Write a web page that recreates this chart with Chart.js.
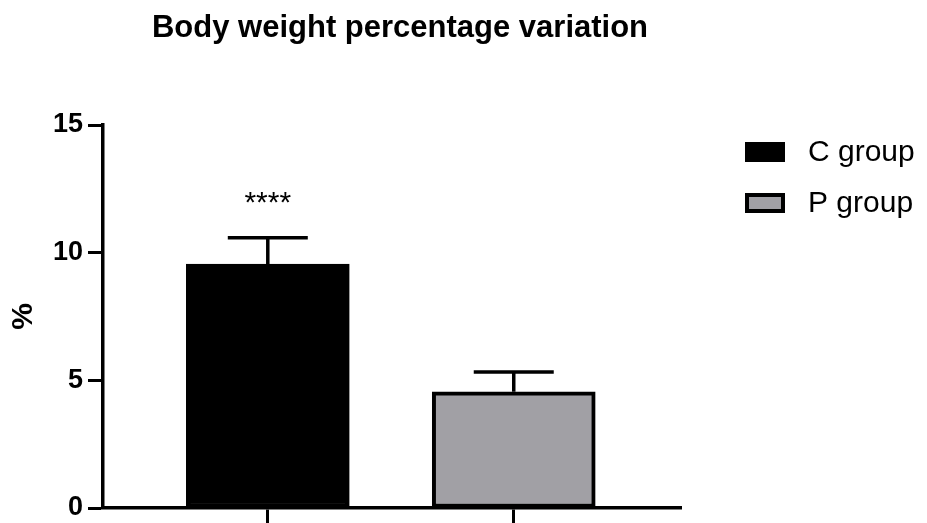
<!DOCTYPE html>
<html>
<head>
<meta charset="utf-8">
<script src="https://cdn.jsdelivr.net/npm/chart.js@4.4.1/dist/chart.umd.min.js"></script>
<style>
  html, body { margin: 0; padding: 0; background: #ffffff; }
  #wrap { width: 927px; height: 523px; }
</style>
</head>
<body>
<div id="wrap"><canvas id="c" width="927" height="523"></canvas></div>
<script>
// Body weight percentage variation, mean + SD per group
const groups = ['C group', 'P group'];
const groupPos = [1, 2];
const means = [9.55, 4.55];
const sds = [1.03, 0.78];
const marks = ['****', ''];
const fills = ['#000000', '#a1a0a5'];
const yTicks = [0, 5, 10, 15];

const FONT = "'Liberation Sans', Arial, Helvetica, sans-serif";

// one dataset per group, sharing a stack so each bar sits centred on its own x
const datasets = groups.map((g, i) => ({
  label: g,
  data: [{ x: groupPos[i], y: means[i] }],
  backgroundColor: fills[i],
  borderColor: '#000000',
  borderWidth: 4,
  borderSkipped: false,
  barThickness: 163,
  stack: 'groups'
}));

// Upward error bars, significance marks, title and legend
const decorations = {
  id: 'decorations',
  afterDatasetsDraw(chart) {
    const ctx = chart.ctx;
    const xs = chart.scales.x, ys = chart.scales.y;
    ctx.save();
    ctx.strokeStyle = '#000';
    ctx.lineWidth = 3.5;
    groups.forEach((g, i) => {
      const x = xs.getPixelForValue(groupPos[i]);
      const yTop = ys.getPixelForValue(means[i]);
      const yErr = ys.getPixelForValue(means[i] + sds[i]);
      ctx.beginPath();
      ctx.moveTo(x, yTop);
      ctx.lineTo(x, yErr);
      ctx.moveTo(x - 40, yErr);
      ctx.lineTo(x + 40, yErr);
      ctx.stroke();
      if (marks[i]) {
        ctx.fillStyle = '#000';
        ctx.font = '30px ' + FONT;
        ctx.textAlign = 'center';
        ctx.textBaseline = 'alphabetic';
        ctx.fillText(marks[i], x, yErr - 26);
      }
    });
    ctx.restore();
  },
  afterDraw(chart) {
    const ctx = chart.ctx;
    ctx.save();
    ctx.fillStyle = '#000';
    ctx.font = 'bold 31px ' + FONT;
    ctx.textAlign = 'center';
    ctx.textBaseline = 'alphabetic';
    ctx.fillText('Body weight percentage variation', 400, 37);

    // legend
    const lx = 745, bw = 40, bh = 20;
    const rows = [152, 203];
    groups.forEach((g, i) => {
      const cy = rows[i];
      ctx.fillStyle = fills[i];
      ctx.fillRect(lx, cy - bh / 2, bw, bh);
      ctx.strokeStyle = '#000';
      ctx.lineWidth = 4;
      ctx.strokeRect(lx + 2, cy - bh / 2 + 2, bw - 4, bh - 4);
      ctx.fillStyle = '#000';
      ctx.font = '30px ' + FONT;
      ctx.textAlign = 'left';
      ctx.textBaseline = 'middle';
      ctx.fillText(g, 808, cy + 1);
    });
    ctx.restore();
  }
};

new Chart(document.getElementById('c'), {
  type: 'bar',
  data: { datasets },
  options: {
    responsive: false,
    animation: false,
    events: [],
    layout: { padding: { top: 125, right: 246, bottom: 0, left: 0 } },
    plugins: {
      legend: { display: false },
      title: { display: false },
      tooltip: { enabled: false }
    },
    scales: {
      x: {
        type: 'linear',
        min: 0.33,
        max: 2.68,
        offset: false,
        afterBuildTicks(scale) { scale.ticks = groupPos.map(v => ({ value: v })); },
        ticks: { display: false },
        grid: {
          offset: false,
          drawOnChartArea: false,
          drawTicks: true,
          tickLength: 15,
          tickWidth: 3,
          tickColor: '#000'
        },
        border: { display: true, color: '#000', width: 3.5 }
      },
      y: {
        min: 0,
        max: 15,
        afterBuildTicks(scale) { scale.ticks = yTicks.map(v => ({ value: v })); },
        afterFit(scale) {
          scale.width = 103;
          scale.paddingTop = 0;
          scale.paddingBottom = 0;
        },
        ticks: {
          color: '#000',
          padding: 5,
          font: { family: FONT, size: 27, weight: 'bold' }
        },
        grid: {
          drawOnChartArea: false,
          drawTicks: true,
          tickLength: 15,
          tickWidth: 3,
          tickColor: '#000'
        },
        border: { display: true, color: '#000', width: 3.5 },
        title: {
          display: true,
          text: '%',
          color: '#000',
          padding: { top: 6, bottom: 0 },
          font: { family: FONT, size: 30, weight: 'bold' }
        }
      }
    }
  },
  plugins: [decorations]
});
</script>
</body>
</html>
